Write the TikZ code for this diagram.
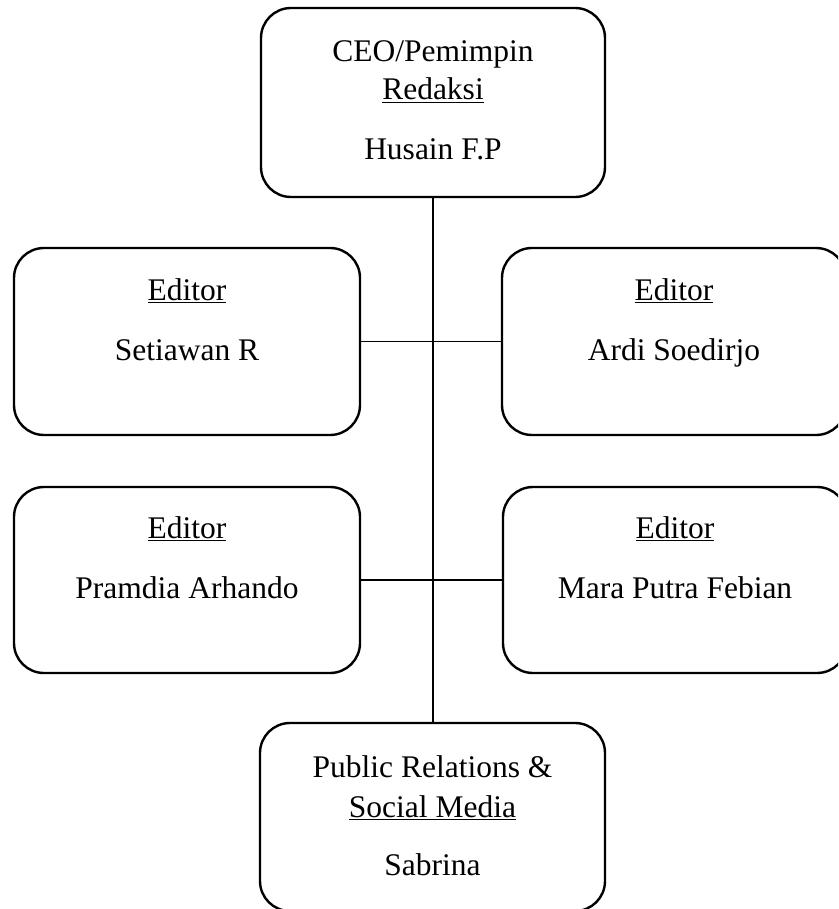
\documentclass[tikz,border=0pt]{standalone}
\usepackage{fontspec}
\setmainfont{Liberation Serif}
\begin{document}
\begin{tikzpicture}[x=1pt,y=-1pt,
  orgbox/.style={draw=black, line width=2.4pt, rounded corners=30pt, rectangle,
    inner sep=0pt, outer sep=0pt, minimum width=#1},
  orgbox/.default=345pt,
  txt/.style={anchor=base, inner sep=0pt, font=\fontsize{31.5}{37}\selectfont},
  link/.style={draw=black, line width=1.2pt}]
\useasboundingbox (0,0) rectangle (838,909);
\clip (0,0) rectangle (838,909);
% boxes
\node[orgbox=344pt, minimum height=189pt] (ceo) at (433,102.5) {};
\node[orgbox=346pt, minimum height=187pt] (ed1) at (187,341.5) {};
\node[orgbox=344pt, minimum height=187pt] (ed2) at (674,341.5) {};
\node[orgbox=346pt, minimum height=186pt] (ed3) at (187,580) {};
\node[orgbox=344pt, minimum height=186pt] (ed4) at (675,580) {};
\node[orgbox=345pt, minimum height=188pt] (pr) at (432.5,817) {};
% connectors
\draw[link] (ceo.south) -- (ceo.south |- pr.north);
\draw[link] (ed1.east) -- (ed2.west);
\draw[link] (ed3.east) -- (ed4.west);
% texts
\node[txt] (t1a) at (433,62) {CEO/Pemimpin};
\node[txt] (t1b) at (433,100) {\underline{Redaksi}};
\node[txt] (t1c) at (433,160) {Husain F.P};
\node[txt] (t2a) at (187,300) {\underline{Editor}};
\node[txt] (t2b) at (187,360) {Setiawan R};
\node[txt] (t3a) at (674,300) {\underline{Editor}};
\node[txt] (t3b) at (674,360) {Ardi Soedirjo};
\node[txt] (t4a) at (187,538) {\underline{Editor}};
\node[txt] (t4b) at (187,598) {Pramdia Arhando};
\node[txt] (t5a) at (675,538) {\underline{Editor}};
\node[txt] (t5b) at (675,598) {Mara Putra Febian};
\node[txt] (t6a) at (432.5,777) {Public Relations \&};
\node[txt] (t6b) at (432.5,817) {\underline{Social Media}};
\node[txt] (t6c) at (432.5,875) {Sabrina};
\end{tikzpicture}
\end{document}
